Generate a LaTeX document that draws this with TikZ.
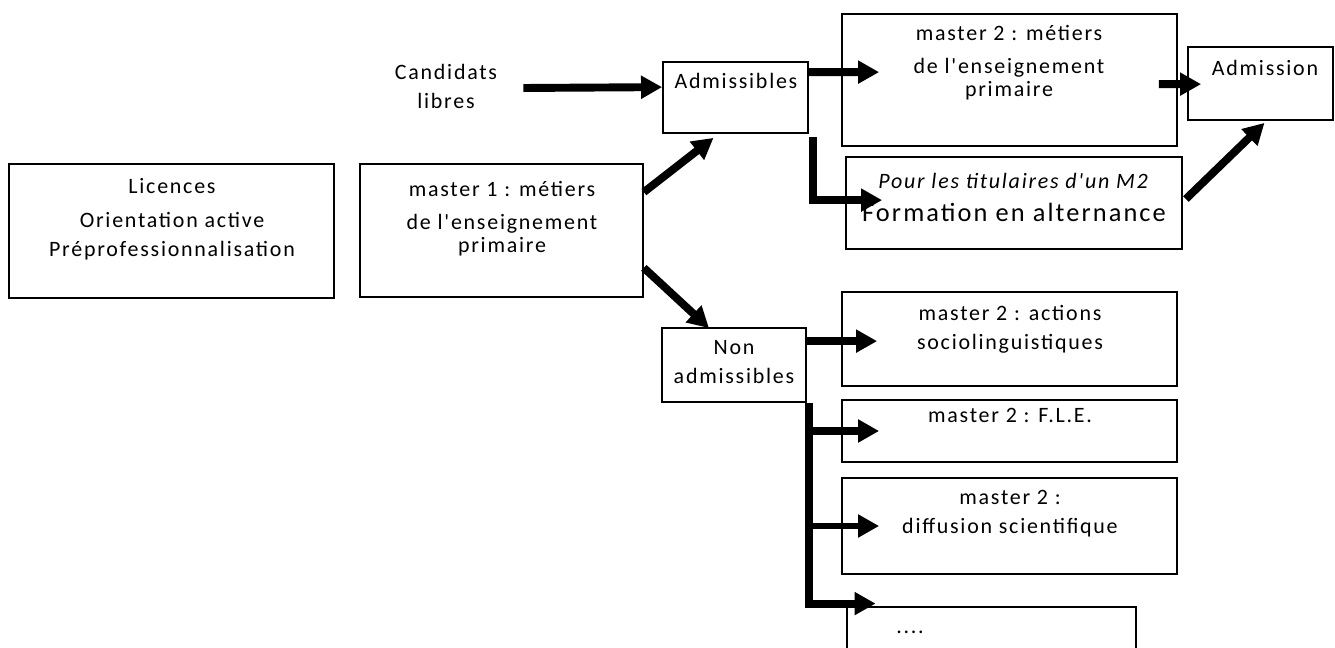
\documentclass[tikz,border=0pt]{standalone}
\usepackage{fontspec}
\setmainfont{Carlito}[Ligatures=TeXOff, LetterSpace=8]
\usetikzlibrary{arrows.meta, calc, positioning, fit}

\begin{document}
\begin{tikzpicture}[x=0.02cm, y=-0.02cm,
  box/.style={draw, line width=1pt, inner sep=0pt},
  txt/.style={align=center, inner sep=0pt, font=\fontsize{12.5}{16.5}\selectfont},
  arr/.style={-{Triangle[length=12pt, width=12.5pt]}, line width=4.5pt},
  thinarr/.style={arr, line width=3pt}]
\useasboundingbox (0,0) rectangle (1335,648);

% Licences
\node[box, fit={(9,164) (334,298)}] (lic) {};
\node[txt, anchor=north] (licT) at (172,178) {Licences\\[3pt] Orientation active\\ Préprofessionnalisation};

% master 1
\node[box, fit={(360,164) (643,297)}] (m1) {};
\node[txt, anchor=north] (m1T) at (502,181) {master 1 : métiers\\[2pt] de l'enseignement\\[-3pt] primaire};

% Candidats libres
\node[txt] (cand) at (446,86) {Candidats\\ libres};

% Admissibles
\node[box, fit={(663,62) (808,133)}] (adm) {};
\node[txt, anchor=north] (admT) at (736,73) {Admissibles};

% master 2 enseignement
\node[box, fit={(842,14) (1177,146)}] (m2) {};
\node[txt, anchor=north] (m2T) at (1009,25) {master 2 : métiers\\[2pt] de l'enseignement\\[-3pt] primaire};

% Admission
\node[box, fit={(1188,47) (1333,120)}] (admis) {};
\node[txt, anchor=north] (admisT) at (1265,60) {Admission};

% Formation en alternance
\node[box, fit={(846,157) (1182,249)}] (form) {};
\node[txt, anchor=north] (formT) at (1014,173) {\textit{Pour les titulaires d'un M2}\\[2pt] {\fontsize{15}{18}\selectfont Formation en alternance}};

% Non admissibles
\node[box, fit={(662,328) (806,402)}] (non) {};
\node[txt, anchor=north] (nonT) at (734,340) {Non\\ admissibles};

% autres masters
\node[box, fit={(842,292) (1177,386)}] (act) {};
\node[txt, anchor=north] (actT) at (1010,305) {master 2 : actions\\ sociolinguistiques};
\node[box, fit={(842,400) (1177,462)}] (fle) {};
\node[txt, anchor=north] (fleT) at (1010,408) {master 2 : F.L.E.};
\node[box, fit={(842,478) (1177,574)}] (diff) {};
\node[txt, anchor=north] (diffT) at (1010,490) {master 2 :\\ diffusion scientifique};
\node[box, line width=1.6pt, fit={(847,607) (1136,670)}] (etc) {};
\node[txt] (etcT) at (910,632) {....};

% arrows
\draw[arr] ($(cand.east)+(26,2)$) -- ($(adm.north west)+(0,26)$);
\draw[arr] ($(m1.north east)+(0,29)$) -- ($(adm.south)+(-22,4)$);
\draw[arr] ($(m1.south east)+(0,-30)$) -- ($(non.north)+(-25,1)$);
\draw[arr] ($(adm.north east)+(0,11)$) -- ($(m2.north west)+(38,59)$);
\draw[arr] ($(adm.south east)+(4,3)$) |- ($(form.north west)+(37,44)$);
\draw[arr] ($(m2.north east)+(-19,71)$) -- ($(admis.north west)+(14,38)$);
\draw[arr] ($(form.east)+(3,-4)$) -- ($(admis.south)+(4,2)$);
\draw[arr] ($(non.north east)+(0,14)$) -- ($(act.north west)+(36,50)$);

% branches
\coordinate (tr) at ($(non.south east)+(2,0)$);
\draw[arr] (tr) |- ($(etc.north west)+(30,-2)$);
\draw[arr] (tr |- fle.west) -- ($(fle.west)+(38,0)$);
\draw[thinarr] (tr |- diff.west) -- ($(diff.west)+(38,0)$);
\end{tikzpicture}
\end{document}
